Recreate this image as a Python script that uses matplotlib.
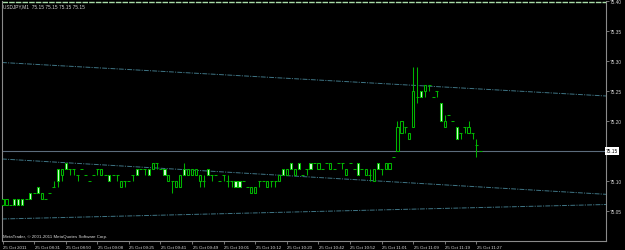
import matplotlib
matplotlib.use("Agg")
import matplotlib.pyplot as plt
import numpy as np

# USDJPY M1 bars (price grid is 0.01)
opens = [75.06, 75.06, 75.06, 75.07, 75.07, 75.07, 75.07, 75.08, 75.08, 75.09,
         75.07, 75.07, 75.08, 75.09, 75.12, 75.11, 75.13, 75.12, 75.12, 75.11,
         75.12, 75.11, 75.10, 75.11, 75.12, 75.11, 75.11, 75.11, 75.11, 75.11,
         75.09, 75.10, 75.10, 75.11, 75.12, 75.12, 75.12, 75.12, 75.12, 75.13,
         75.12, 75.12, 75.10, 75.10, 75.09, 75.09, 75.12, 75.11, 75.11, 75.11,
         75.10, 75.10, 75.12, 75.11, 75.11, 75.10, 75.11, 75.10, 75.10, 75.10,
         75.10, 75.10, 75.09, 75.08, 75.08, 75.10, 75.10, 75.09, 75.10, 75.10,
         75.10, 75.12, 75.11, 75.13, 75.11, 75.13, 75.11, 75.12, 75.13, 75.13,
         75.12, 75.12, 75.13, 75.12, 75.12, 75.13, 75.13, 75.11, 75.13, 75.12,
         75.13, 75.12, 75.11, 75.11, 75.10, 75.13, 75.12, 75.12, 75.12, 75.14,
         75.15, 75.18, 75.19, 75.17, 75.19, 75.24, 75.25, 75.25, 75.26, 75.24,
         75.25, 75.23, 75.19, 75.21, 75.20, 75.19, 75.18, 75.19, 75.18, 75.18,
         75.16, 75.15]
highs = [75.07, 75.07, 75.06, 75.07, 75.07, 75.07, 75.07, 75.08, 75.08, 75.09,
         75.08, 75.07, 75.08, 75.10, 75.12, 75.12, 75.13, 75.12, 75.12, 75.11,
         75.12, 75.11, 75.10, 75.11, 75.12, 75.12, 75.11, 75.11, 75.11, 75.11,
         75.10, 75.10, 75.10, 75.11, 75.12, 75.12, 75.12, 75.12, 75.13, 75.13,
         75.12, 75.12, 75.11, 75.10, 75.10, 75.11, 75.13, 75.12, 75.12, 75.12,
         75.11, 75.11, 75.12, 75.11, 75.11, 75.10, 75.11, 75.11, 75.10, 75.10,
         75.10, 75.10, 75.09, 75.09, 75.09, 75.10, 75.10, 75.10, 75.10, 75.10,
         75.11, 75.12, 75.12, 75.13, 75.12, 75.13, 75.11, 75.12, 75.13, 75.13,
         75.13, 75.12, 75.13, 75.13, 75.12, 75.13, 75.13, 75.12, 75.13, 75.12,
         75.13, 75.12, 75.12, 75.12, 75.12, 75.13, 75.12, 75.13, 75.13, 75.14,
         75.20, 75.20, 75.19, 75.18, 75.29, 75.29, 75.25, 75.26, 75.26, 75.24,
         75.25, 75.23, 75.21, 75.21, 75.20, 75.19, 75.18, 75.19, 75.20, 75.18,
         75.17, 75.15]
lows = [75.06, 75.06, 75.06, 75.06, 75.06, 75.06, 75.07, 75.07, 75.08, 75.08,
        75.07, 75.07, 75.08, 75.09, 75.09, 75.10, 75.12, 75.11, 75.11, 75.10,
        75.12, 75.11, 75.10, 75.11, 75.11, 75.11, 75.11, 75.10, 75.11, 75.10,
        75.09, 75.09, 75.10, 75.10, 75.11, 75.12, 75.11, 75.11, 75.12, 75.12,
        75.12, 75.11, 75.10, 75.08, 75.09, 75.09, 75.11, 75.11, 75.11, 75.11,
        75.09, 75.09, 75.11, 75.10, 75.11, 75.10, 75.10, 75.09, 75.09, 75.09,
        75.09, 75.10, 75.09, 75.08, 75.08, 75.09, 75.10, 75.09, 75.09, 75.09,
        75.10, 75.11, 75.11, 75.12, 75.11, 75.12, 75.11, 75.11, 75.12, 75.13,
        75.12, 75.12, 75.13, 75.12, 75.12, 75.13, 75.12, 75.11, 75.13, 75.12,
        75.11, 75.12, 75.11, 75.10, 75.10, 75.12, 75.11, 75.12, 75.12, 75.14,
        75.15, 75.18, 75.18, 75.17, 75.19, 75.23, 75.24, 75.24, 75.25, 75.24,
        75.24, 75.20, 75.19, 75.21, 75.20, 75.17, 75.17, 75.18, 75.18, 75.17,
        75.14, 75.15]
closes = [75.07, 75.07, 75.06, 75.06, 75.06, 75.06, 75.07, 75.07, 75.08, 75.08,
          75.08, 75.07, 75.08, 75.09, 75.10, 75.12, 75.12, 75.12, 75.12, 75.11,
          75.12, 75.11, 75.10, 75.11, 75.12, 75.12, 75.11, 75.10, 75.11, 75.11,
          75.10, 75.10, 75.10, 75.11, 75.11, 75.12, 75.12, 75.11, 75.13, 75.13,
          75.12, 75.11, 75.11, 75.10, 75.10, 75.11, 75.11, 75.12, 75.12, 75.12,
          75.11, 75.10, 75.11, 75.11, 75.11, 75.10, 75.11, 75.10, 75.10, 75.09,
          75.09, 75.10, 75.09, 75.09, 75.09, 75.10, 75.10, 75.10, 75.10, 75.10,
          75.11, 75.11, 75.12, 75.12, 75.12, 75.12, 75.11, 75.12, 75.12, 75.13,
          75.13, 75.12, 75.13, 75.13, 75.12, 75.13, 75.13, 75.12, 75.13, 75.12,
          75.11, 75.12, 75.12, 75.11, 75.12, 75.12, 75.12, 75.13, 75.13, 75.14,
          75.19, 75.20, 75.19, 75.18, 75.25, 75.24, 75.24, 75.26, 75.26, 75.24,
          75.25, 75.20, 75.20, 75.21, 75.20, 75.17, 75.18, 75.19, 75.19, 75.18,
          75.16, 75.15]

time_labels = ["25 Oct 2011", "25 Oct 08:31", "25 Oct 08:50", "25 Oct 09:08",
               "25 Oct 09:25", "25 Oct 09:41", "25 Oct 09:49", "25 Oct 10:01",
               "25 Oct 10:12", "25 Oct 10:20", "25 Oct 10:42", "25 Oct 10:52",
               "25 Oct 11:01", "25 Oct 11:09", "25 Oct 11:19", "25 Oct 11:27"]
label_every = 8

price_ticks = [75.05, 75.10, 75.15, 75.20, 75.25, 75.30, 75.35, 75.40]
last_price = 75.15
title = "USDJPY,M1  75.15 75.15 75.15 75.15"

# channel lines: (price at left edge, price at right edge)
channel_upper = (75.2975, 75.2417)
channel_mid = (75.1367, 75.0778)
channel_low = (75.0367, 75.0608)

green = "#00b400"
bear_fill = "#d4ffd4"
chan_color = "#3f7585"
frame = "#8a8a8a"
txt = "#d8d8d8"

fig = plt.figure(figsize=(6.25, 2.51), dpi=100, facecolor="black")
ax = fig.add_axes([2 / 625, 9 / 251, 604 / 625, 240 / 251])
ax.set_facecolor("black")

n = len(opens)
x = np.arange(n)
xmin, xmax = -0.13, 152.8
ax.set_xlim(xmin, xmax)
ax.set_ylim(75.00, 75.40)

o = np.array(opens)
h = np.array(highs)
l = np.array(lows)
c = np.array(closes)

ax.vlines(x, l, h, color=green, lw=0.75, zorder=2)
bull = c > o
bear = c < o
doji = c == o
ax.bar(x[bull], c[bull] - o[bull], bottom=o[bull], width=0.55,
       color="black", edgecolor=green, lw=0.75, zorder=3)
ax.bar(x[bear], o[bear] - c[bear], bottom=c[bear], width=0.55,
       color=bear_fill, edgecolor=green, lw=0.75, zorder=3)
ax.hlines(o[doji], x[doji] - 0.38, x[doji] + 0.38, color=green, lw=0.75, zorder=3)

# trend channel
for y0, y1 in (channel_upper, channel_mid, channel_low):
    ax.plot([xmin, xmax], [y0, y1], color=chan_color, lw=0.7,
            ls=(0, (5, 1.2, 1.2, 1.2)), zorder=1)

ax.axhline(last_price, color="#5c6c7c", lw=0.8, zorder=1)
ax.axhline(75.399, color="#a8dca8", lw=1.0, ls=(0, (4, 0.8)), zorder=1)

ax.spines["top"].set_visible(False)
for s in ("left", "right", "bottom"):
    ax.spines[s].set_color(frame)
    ax.spines[s].set_linewidth(0.8)

ax.yaxis.tick_right()
ax.set_yticks(price_ticks)
ax.set_yticklabels(["%.2f" % p if p != last_price else "" for p in price_ticks])
ax.tick_params(axis="y", colors=frame, labelcolor=txt, length=2, width=0.6,
               pad=1, labelsize=3.4)
for lab in ax.get_yticklabels():
    lab.set_fontfamily("Liberation Sans")

ax.set_xticks(x[::label_every])
ax.set_xticklabels([])
ax.tick_params(axis="x", colors=frame, length=2, width=0.6)
for i, t in zip(x[::label_every], time_labels):
    ax.annotate(t, (i, 0), xycoords=("data", "axes fraction"),
                xytext=(0.3, -4.3), textcoords="offset points",
                ha="left", va="center", color=txt, fontsize=3.2,
                family="Liberation Sans", annotation_clip=False)

ax.text(1.0, last_price, "%.2f" % last_price, transform=ax.get_yaxis_transform(),
        ha="left", va="center", fontsize=3.4, family="Liberation Sans",
        color="black", bbox=dict(boxstyle="square,pad=0.25", fc="white", ec="none"),
        clip_on=False)

ax.text(0.002, 0.978, title, transform=ax.transAxes, ha="left", va="center",
        color=txt, fontsize=3.4, family="Liberation Sans")
ax.text(0.002, 0.02, "MetaTrader, \u00a9 2001-2011 MetaQuotes Software Corp.",
        transform=ax.transAxes, ha="left", va="center", color=txt,
        fontsize=3.2, family="Liberation Sans")

fig.savefig("out.png", dpi=100, facecolor="black")
